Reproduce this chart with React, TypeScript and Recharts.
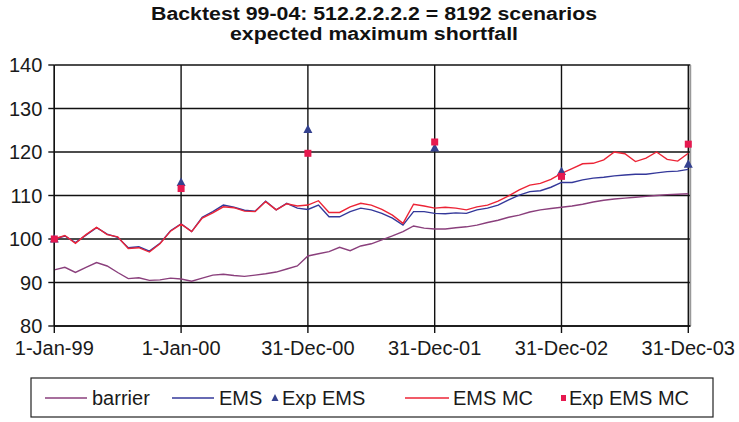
import React from 'react';
import { ComposedChart, Line, XAxis, YAxis, CartesianGrid, ReferenceLine } from 'recharts';

const titleLines = ['Backtest 99-04: 512.2.2.2.2 = 8192 scenarios', 'expected maximum shortfall'];

const xTickValues = [0, 12, 24, 36, 48, 60];
const xTickLabels = ['1-Jan-99', '1-Jan-00', '31-Dec-00', '31-Dec-01', '31-Dec-02', '31-Dec-03'];
const yTicks = [80, 90, 100, 110, 120, 130, 140];

const barrier = [
  92.9, 93.5, 92.3, 93.5, 94.6, 93.8, 92.3, 90.9, 91.1, 90.5, 90.6, 91.0,
  90.8, 90.3, 91.0, 91.7, 91.9, 91.6, 91.4, 91.7, 92.0, 92.4, 93.1, 93.8,
  96.1, 96.6, 97.1, 98.1, 97.3, 98.4, 98.9, 99.8, 100.7, 101.7, 103.0, 102.5,
  102.3, 102.3, 102.6, 102.8, 103.2, 103.8, 104.3, 105.0, 105.5, 106.2, 106.7, 107.0,
  107.3, 107.6, 108.0, 108.5, 108.9, 109.2, 109.4, 109.6, 109.8, 110.0, 110.2, 110.3,
  110.4,
];

const ems = [
  100.0, 100.7, 99.2, 100.9, 102.6, 101.1, 100.4, 98.0, 98.2, 97.2, 99.0, 101.9,
  103.5, 101.7, 105.0, 106.3, 107.8, 107.3, 106.6, 106.4, 108.7, 106.7, 108.2, 107.1,
  106.8, 107.8, 105.1, 105.1, 106.3, 107.1, 106.7, 105.9, 104.8, 103.2, 106.3, 106.3,
  105.9, 105.8, 106.0, 105.9, 106.7, 107.1, 107.8, 109.0, 110.1, 110.9, 111.1, 111.9,
  113.0, 113.0, 113.6, 114.0, 114.2, 114.5, 114.7, 114.9, 114.9, 115.2, 115.5, 115.6,
  116.0,
];

const emsMc = [
  100.0, 100.8, 99.0, 101.0, 102.7, 101.0, 100.5, 97.8, 98.0, 97.0, 98.9, 101.8,
  103.4, 101.7, 104.8, 106.0, 107.4, 107.2, 106.4, 106.3, 108.6, 106.7, 108.1, 107.6,
  107.8, 108.8, 106.1, 106.1, 107.4, 108.2, 107.8, 106.8, 105.5, 103.6, 108.0, 107.6,
  107.1, 107.3, 107.1, 106.7, 107.4, 107.8, 108.7, 109.9, 111.3, 112.4, 112.8, 113.7,
  115.1, 116.2, 117.3, 117.4, 118.2, 120.0, 119.6, 117.8, 118.6, 120.0, 118.3, 117.9,
  119.7,
];

const expMonths = [0, 12, 24, 36, 48, 60];
const expEms = [100.0, 113.0, 125.2, 120.9, 115.5, 117.2];
const expEmsMc = [100.0, 111.6, 119.7, 122.3, 114.4, 121.8];

const COLORS = {
  barrier: '#8a3f7c',
  ems: '#34389a',
  expEms: '#34418f',
  emsMc: '#ec2436',
  expEmsMc: '#e6194f',
};

const FONT = "'Liberation Sans', Arial, sans-serif";

const data = barrier.map((b, m) => {
  const k = expMonths.indexOf(m);
  return {
    m,
    barrier: b,
    ems: ems[m],
    emsMc: emsMc[m],
    expEms: k >= 0 ? expEms[k] : null,
    expEmsMc: k >= 0 ? expEmsMc[k] : null,
  };
});

const triangleDot = (props: any) => {
  const { cx, cy, index } = props;
  if (cx == null || cy == null || isNaN(cy)) return <g key={`t-${index}`} />;
  return (
    <polygon
      key={`t-${index}`}
      points={`${cx},${cy - 5} ${cx - 4.5},${cy + 3.5} ${cx + 4.5},${cy + 3.5}`}
      fill={COLORS.expEms}
    />
  );
};

const squareDot = (props: any) => {
  const { cx, cy, index } = props;
  if (cx == null || cy == null || isNaN(cy)) return <g key={`s-${index}`} />;
  return <rect key={`s-${index}`} x={cx - 3.5} y={cy - 3.5} width={7} height={7} fill={COLORS.expEmsMc} />;
};

const xFmt = (v: number) => {
  const i = xTickValues.indexOf(v);
  return i >= 0 ? xTickLabels[i] : '';
};

export default function App() {
  return (
    <div style={{ position: 'absolute', left: 0, top: 0, width: 739, height: 422, background: '#fff' }}>
      <ComposedChart
        width={739}
        height={422}
        data={data}
        margin={{ top: 65, right: 48.6, bottom: 56, left: 0 }}
      >
        <CartesianGrid stroke="#111" strokeWidth={1.4} />
        <XAxis
          dataKey="m"
          type="number"
          domain={[0, 60.2]}
          ticks={xTickValues}
          tickFormatter={xFmt}
          height={40}
          tickSize={7}
          tickMargin={8}
          interval={0}
          axisLine={{ stroke: '#111', strokeWidth: 1.4 }}
          tickLine={{ stroke: '#111', strokeWidth: 1.4 }}
          tick={{ fill: '#1a1a1a', fontSize: 20, fontFamily: FONT }}
        />
        <YAxis
          type="number"
          domain={[80, 140]}
          ticks={yTicks}
          width={54.3}
          tickSize={6}
          tickMargin={6}
          interval={0}
          axisLine={{ stroke: '#111', strokeWidth: 1.4 }}
          tickLine={{ stroke: '#111', strokeWidth: 1.4 }}
          tick={{ fill: '#1a1a1a', fontSize: 20, fontFamily: FONT }}
        />
        <ReferenceLine x={60.2} stroke="#999" strokeWidth={1.2} />
        <Line dataKey="barrier" type="linear" stroke={COLORS.barrier} strokeWidth={1.4} dot={false} activeDot={false} isAnimationActive={false} />
        <Line dataKey="ems" type="linear" stroke={COLORS.ems} strokeWidth={1.4} dot={false} activeDot={false} isAnimationActive={false} />
        <Line dataKey="expEms" type="linear" stroke="none" dot={triangleDot} activeDot={false} isAnimationActive={false} />
        <Line dataKey="emsMc" type="linear" stroke={COLORS.emsMc} strokeWidth={1.4} dot={false} activeDot={false} isAnimationActive={false} />
        <Line dataKey="expEmsMc" type="linear" stroke="none" dot={squareDot} activeDot={false} isAnimationActive={false} />
      </ComposedChart>
      <svg width={739} height={422} style={{ position: 'absolute', left: 0, top: 0, pointerEvents: 'none' }}>
        <text x={374} y={19.5} textAnchor="middle" fontFamily={FONT} fontWeight="bold" fontSize={18} fill="#111" textLength={446} lengthAdjust="spacingAndGlyphs">
          {titleLines[0]}
        </text>
        <text x={374} y={40} textAnchor="middle" fontFamily={FONT} fontWeight="bold" fontSize={18} fill="#111" textLength={288} lengthAdjust="spacingAndGlyphs">
          {titleLines[1]}
        </text>
        <rect x={31} y={378} width={682} height={39} fill="none" stroke="#222" strokeWidth={1.2} />
        <g fontFamily={FONT} fontSize={20} fill="#1a1a1a">
          <line x1={45} x2={87} y1={398} y2={398} stroke={COLORS.barrier} strokeWidth={1.3} />
          <text x={92} y={405}>barrier</text>
          <line x1={172} x2={214} y1={398} y2={398} stroke={COLORS.ems} strokeWidth={1.3} />
          <text x={219} y={405}>EMS</text>
          <polygon points="275,394 271.5,401 278.5,401" fill={COLORS.expEms} />
          <text x={282} y={405}>Exp EMS</text>
          <line x1={405} x2={449} y1={398} y2={398} stroke={COLORS.emsMc} strokeWidth={1.3} />
          <text x={453} y={405}>EMS MC</text>
          <rect x={561} y={395} width={5} height={6} fill={COLORS.expEmsMc} />
          <text x={569} y={405}>Exp EMS MC</text>
        </g>
      </svg>
    </div>
  );
}
